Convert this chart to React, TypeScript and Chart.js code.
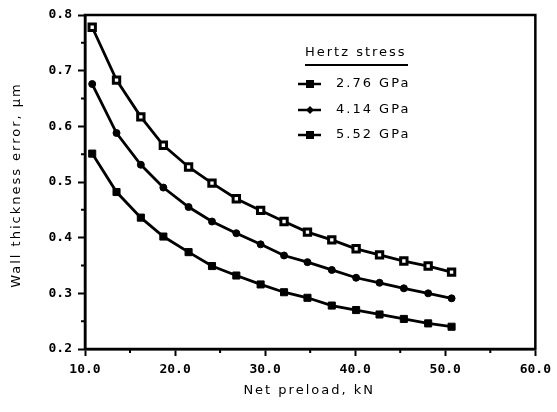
import React, { useEffect, useRef } from "react";
import { Chart, registerables } from "chart.js";

Chart.register(...registerables);

const preload = [10.8, 13.5, 16.2, 18.7, 21.5, 24.1, 26.8, 29.5, 32.1, 34.7, 37.4, 40.1, 42.7, 45.4, 48.1, 50.7];
const err276 = [0.778, 0.683, 0.617, 0.566, 0.527, 0.498, 0.470, 0.449, 0.429, 0.410, 0.396, 0.380, 0.369, 0.358, 0.349, 0.338];
const err414 = [0.676, 0.588, 0.531, 0.490, 0.455, 0.429, 0.408, 0.388, 0.368, 0.356, 0.342, 0.328, 0.319, 0.309, 0.300, 0.291];
const err552 = [0.551, 0.482, 0.436, 0.402, 0.374, 0.349, 0.332, 0.316, 0.302, 0.292, 0.278, 0.270, 0.262, 0.254, 0.246, 0.240];
const seriesLabels = ["2.76 GPa", "4.14 GPa", "5.52 GPa"];
const legendTitle = "Hertz stress";
const xTitle = "Net preload, kN";
const yTitle = "Wall thickness error, \u00b5m";
const xMinorTicks = [15, 25, 35, 45, 55];
const yMinorTicks = [0.25, 0.35, 0.45, 0.55, 0.65, 0.75];

const TEXT_FONT = '13px "DejaVu Sans", sans-serif';
const TICK_FONT = { family: '"DejaVu Sans Mono", monospace', size: 13, weight: "bold" as const };

const extrasPlugin = {
  id: "extras",
  afterDraw(chart: any) {
    const ctx = chart.ctx as CanvasRenderingContext2D;
    const { left, right, top, bottom } = chart.chartArea;
    const xs = chart.scales.x;
    const ys = chart.scales.y;
    ctx.save();
    // frame
    ctx.strokeStyle = "#000";
    ctx.lineWidth = 2.5;
    ctx.strokeRect(left, top, right - left, bottom - top);
    // minor ticks
    ctx.lineWidth = 2;
    ctx.beginPath();
    xMinorTicks.forEach((v) => {
      const px = xs.getPixelForValue(v);
      ctx.moveTo(px, bottom);
      ctx.lineTo(px, bottom + 4);
    });
    yMinorTicks.forEach((v) => {
      const py = ys.getPixelForValue(v);
      ctx.moveTo(left, py);
      ctx.lineTo(left - 4, py);
    });
    ctx.stroke();

    ctx.fillStyle = "#000";
    ctx.font = TEXT_FONT;
    (ctx as any).letterSpacing = "2px";
    ctx.textBaseline = "middle";

    // x title
    ctx.textAlign = "center";
    ctx.fillText(xTitle, (left + right) / 2 - 1, 391);

    // y title
    ctx.save();
    ctx.translate(17, 185);
    ctx.rotate(-Math.PI / 2);
    ctx.textAlign = "center";
    ctx.fillText(yTitle, 0, 0);
    ctx.restore();

    // legend
    ctx.textAlign = "left";
    ctx.fillText(legendTitle, 305, 53);
    ctx.lineWidth = 2;
    ctx.beginPath();
    ctx.moveTo(305, 65);
    ctx.lineTo(408, 65);
    ctx.stroke();

    const rowsY = [84, 110, 135];
    rowsY.forEach((ry, i) => {
      ctx.lineWidth = 2.5;
      ctx.beginPath();
      ctx.moveTo(298, ry);
      ctx.lineTo(321, ry);
      ctx.stroke();
      ctx.beginPath();
      if (i === 1) {
        ctx.moveTo(310, ry - 4);
        ctx.lineTo(314, ry);
        ctx.lineTo(310, ry + 4);
        ctx.lineTo(306, ry);
        ctx.closePath();
      } else {
        ctx.rect(306, ry - 4, 8, 8);
      }
      ctx.fill();
      ctx.fillText(seriesLabels[i], 336, ry);
    });
    ctx.restore();
  },
};

export default function App() {
  const ref = useRef<HTMLCanvasElement | null>(null);
  useEffect(() => {
    if (!ref.current) return;
    const mk = (arr: number[]) => preload.map((x, i) => ({ x, y: arr[i] }));
    const chart = new Chart(ref.current, {
      type: "line",
      data: {
        datasets: [
          {
            label: seriesLabels[0],
            data: mk(err276),
            borderColor: "#000",
            borderWidth: 2.8,
            pointStyle: "rect",
            pointRadius: 4.5,
            pointBackgroundColor: "#fff",
            pointBorderColor: "#000",
            pointBorderWidth: 3,
            tension: 0,
          },
          {
            label: seriesLabels[1],
            data: mk(err414),
            borderColor: "#000",
            borderWidth: 2.8,
            pointStyle: "circle",
            pointRadius: 3.5,
            pointBackgroundColor: "#000",
            pointBorderColor: "#000",
            pointBorderWidth: 1,
            tension: 0,
          },
          {
            label: seriesLabels[2],
            data: mk(err552),
            borderColor: "#000",
            borderWidth: 2.8,
            pointStyle: "rect",
            pointRadius: 5,
            pointBackgroundColor: "#000",
            pointBorderColor: "#000",
            pointBorderWidth: 1,
            tension: 0,
          },
        ],
      },
      options: {
        responsive: false,
        animation: false,
        layout: { padding: { left: 0, top: 15, right: 19, bottom: 0 } },
        plugins: { legend: { display: false }, tooltip: { enabled: false } },
        scales: {
          x: {
            type: "linear",
            min: 10,
            max: 60,
            ticks: {
              stepSize: 10,
              callback: (v: any) => Number(v).toFixed(1),
              font: TICK_FONT,
              color: "#000",
              padding: 6,
              maxRotation: 0,
            },
            grid: { drawOnChartArea: false, drawTicks: true, tickLength: 7, tickWidth: 2, tickColor: "#000" },
            border: { display: true, color: "#000", width: 2.5 },
            afterFit: (s: any) => {
              s.height = 63;
            },
          },
          y: {
            type: "linear",
            min: 0.2,
            max: 0.8,
            ticks: {
              stepSize: 0.1,
              callback: (v: any) => Number(v).toFixed(1),
              font: TICK_FONT,
              color: "#000",
              padding: 6,
            },
            grid: { drawOnChartArea: false, drawTicks: true, tickLength: 7, tickWidth: 2, tickColor: "#000" },
            border: { display: true, color: "#000", width: 2.5 },
            afterFit: (s: any) => {
              s.width = 85;
            },
          },
        },
      },
      plugins: [extrasPlugin],
    });
    return () => chart.destroy();
  }, []);
  return (
    <div style={{ position: "fixed", left: 0, top: 0, width: 557, height: 412, background: "#fff" }}>
      <canvas ref={ref} width={557} height={412} style={{ width: 557, height: 412 }} />
    </div>
  );
}
